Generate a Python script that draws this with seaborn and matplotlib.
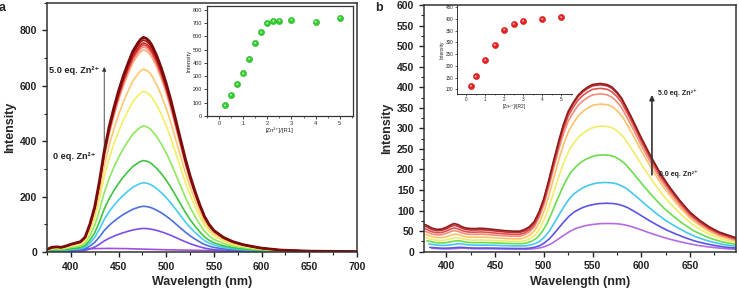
import numpy as np
import pandas as pd
import matplotlib
matplotlib.use("Agg")
import matplotlib.pyplot as plt
from matplotlib.ticker import MultipleLocator
import seaborn as sns

sns.set_style("ticks")
plt.rcParams['font.family'] = ['Liberation Sans', 'DejaVu Sans']

# ---------------- Panel a data ----------------
wl_a = [375, 380, 385, 390, 395, 400, 405, 410, 415, 420, 425, 430, 435, 440, 445,
        450, 455, 460, 465, 470, 473, 476, 479, 482, 485, 490, 495, 500, 505, 510,
        515, 520, 525, 530, 535, 540, 545, 550, 560, 570, 580, 590, 600, 620, 650, 700]
shape_a = [0.012, 0.022, 0.024, 0.022, 0.028, 0.036, 0.042, 0.048, 0.07, 0.13,
           0.21, 0.33, 0.47, 0.58, 0.67, 0.75, 0.82, 0.88, 0.935, 0.972, 0.99,
           1.0, 0.995, 0.983, 0.963, 0.915, 0.855, 0.785, 0.705, 0.615, 0.525,
           0.435, 0.355, 0.285, 0.222, 0.167, 0.128, 0.10, 0.068, 0.048, 0.035,
           0.026, 0.018, 0.009, 0.004, 0.002]
peaks_a = [85, 165, 250, 330, 455, 580, 660, 730, 740, 748, 755, 765, 775]
free_wl_a = [375, 380, 400, 420, 440, 460, 480, 500, 550, 600, 650, 700]
free_int_a = [4, 5, 8, 12, 13, 12, 10, 8, 5, 3, 2, 1]
colors_a = ['#a050e0', '#7b4fe6', '#4d6fdc', '#45cdf2', '#3fc43f', '#8ee860',
            '#f2f060', '#ffc870', '#ffae80', '#f7927e', '#e84a4a', '#d02828',
            '#a81818', '#7a0c0c']
ins_x_a = [0.25, 0.5, 0.75, 1, 1.25, 1.5, 1.75, 2, 2.25, 2.5, 3, 4, 5]
ins_y_a = [80, 160, 240, 320, 430, 550, 630, 700, 715, 718, 725, 710, 740]

# ---------------- Panel b data ----------------
wl_b = [377, 380, 385, 390, 395, 400, 405, 408, 412, 416, 420, 425, 430, 435, 440,
        450, 460, 470, 475, 480, 485, 490, 495, 500, 505, 510, 516, 520, 525, 530,
        535, 540, 545, 550, 558, 565, 570, 575, 580, 590, 600, 610, 620, 630, 640,
        650, 660, 670, 680, 697]
base_b = [1.05, 1.0, 0.9, 0.85, 0.86, 0.93, 1.03, 1.07, 1.03, 0.95, 0.9, 0.88,
          0.88, 0.89, 0.88, 0.84, 0.8, 0.78, 0.78, 0.78, 0.77, 0.76, 0.75, 0.74,
          0.73, 0.72, 0.70, 0.69, 0.68, 0.66, 0.65, 0.63, 0.62, 0.6, 0.58, 0.57,
          0.56, 0.55, 0.54, 0.52, 0.5, 0.48, 0.46, 0.44, 0.42, 0.4, 0.38, 0.36,
          0.34, 0.3]
band_b = [0, 0, 0, 0, 0, 0, 0, 0, 0, 0, 0, 0, 0, 0, 0, 0, 0, 0, 0, 0.01, 0.03,
          0.065, 0.13, 0.22, 0.34, 0.47, 0.62, 0.71, 0.8, 0.86, 0.91, 0.945, 0.97,
          0.99, 1.0, 0.995, 0.98, 0.95, 0.91, 0.79, 0.66, 0.54, 0.43, 0.34, 0.26,
          0.19, 0.14, 0.1, 0.07, 0.04]
baseline_b = [8, 10, 18, 25, 32, 40, 48, 54, 60, 64]
band_amp_b = [64, 112, 158, 221, 287, 336, 356, 366, 371, 372]
shift_b = [8, 6, 5, 3, 2, 1, 0, 0, 0, 0]
colors_b = ['#b36be0', '#5a55e6', '#45c8ef', '#6cdc4a', '#eeee66', '#ffc266',
            '#f08c78', '#e05050', '#c03030', '#8f1d1d']
ins_x_b = [0.25, 0.5, 1, 1.5, 2, 2.5, 3, 4, 5]
ins_y_b = [115, 155, 225, 290, 355, 380, 393, 400, 408]

W, H = 739, 292
fig = plt.figure(figsize=(W / 100, H / 100), dpi=100)

def axrect(l, t, r, b):
    return [l / W, 1 - b / H, (r - l) / W, (b - t) / H]

spine_c = '#333333'
tick_kw = dict(labelsize=7.5, width=1.0, length=3.5, direction='out', colors='#222222')

def style_main(ax):
    for s in ax.spines.values():
        s.set_visible(True)
        s.set_color(spine_c)
        s.set_linewidth(1.1)
    ax.tick_params(which='major', **tick_kw)
    ax.tick_params(which='minor', width=0.8, length=2, direction='out', colors='#222222')
    for lab in ax.get_xticklabels() + ax.get_yticklabels():
        lab.set_fontweight('bold')

# ---------- Panel a ----------
ax_a = fig.add_axes(axrect(47, 2.7, 357, 252))
sns.lineplot(x=free_wl_a, y=free_int_a, ax=ax_a, color=colors_a[0], lw=1.2)
for i, pk in enumerate(peaks_a):
    yv = np.array(shape_a) * pk
    lw = 2.0 if i == len(peaks_a) - 1 else 1.2
    sns.lineplot(x=wl_a, y=yv, ax=ax_a, color=colors_a[i + 1], lw=lw)
ax_a.set_xlim(375, 700)
ax_a.set_ylim(0, 900)
ax_a.xaxis.set_major_locator(MultipleLocator(50))
ax_a.xaxis.set_minor_locator(MultipleLocator(25))
ax_a.yaxis.set_major_locator(MultipleLocator(200))
ax_a.yaxis.set_minor_locator(MultipleLocator(100))
ax_a.set_xlabel('Wavelength (nm)', fontsize=9, fontweight='bold', labelpad=3)
ax_a.set_ylabel('Intensity', fontsize=9, fontweight='bold', labelpad=3)
style_main(ax_a)
ax_a.annotate('', xy=(435, 678), xytext=(435, 360),
              arrowprops=dict(arrowstyle='-|>', color='#333333', lw=0.6,
                              mutation_scale=6))
ax_a.text(377, 654, '5.0 eq. Zn²⁺', fontsize=6.6, fontweight='bold',
          va='center', ha='left', color='#222222')
ax_a.text(381, 343, '0 eq. Zn²⁺', fontsize=6.6, fontweight='bold',
          va='center', ha='left', color='#222222')

# inset a
ia = fig.add_axes(axrect(207, 5.7, 353, 116))
sns.scatterplot(x=ins_x_a, y=ins_y_a, ax=ia, color='#2fcf2f', s=20,
                edgecolor='#1a9a1a', linewidth=0.3, zorder=3)
sns.scatterplot(x=ins_x_a, y=ins_y_a, ax=ia, color='#b8ffb0', s=2,
                edgecolor='none', zorder=4)
ia.set_xlim(-0.5, 5.55)
ia.set_ylim(0, 830)
ia.xaxis.set_major_locator(MultipleLocator(1))
ia.xaxis.set_minor_locator(MultipleLocator(0.5))
ia.yaxis.set_major_locator(MultipleLocator(100))
for s in ia.spines.values():
    s.set_visible(True)
    s.set_color(spine_c)
    s.set_linewidth(0.9)
ia.tick_params(which='major', labelsize=4, width=0.6, length=2, pad=1.5)
ia.tick_params(which='minor', width=0.5, length=1.2)
ia.set_xlabel('[Zn²⁺]/[R1]', fontsize=4.2, labelpad=1)
ia.set_ylabel('Intensity', fontsize=4.2, labelpad=1)

# ---------- Panel b ----------
ax_b = fig.add_axes(axrect(424, 5, 735.7, 251.7))
for i in range(len(baseline_b)):
    yv = np.array(base_b) * baseline_b[i] + np.array(band_b) * band_amp_b[i]
    xv = np.array(wl_b) + shift_b[i]
    sns.lineplot(x=xv, y=yv, ax=ax_b, color=colors_b[i], lw=1.2)
ax_b.set_xlim(377, 697)
ax_b.set_ylim(0, 600)
ax_b.xaxis.set_major_locator(MultipleLocator(50))
ax_b.xaxis.set_minor_locator(MultipleLocator(25))
ax_b.yaxis.set_major_locator(MultipleLocator(50))
ax_b.yaxis.set_minor_locator(MultipleLocator(25))
ax_b.set_xlabel('Wavelength (nm)', fontsize=9, fontweight='bold', labelpad=3)
ax_b.set_ylabel('Intensity', fontsize=9, fontweight='bold', labelpad=3)
style_main(ax_b)
ax_b.annotate('', xy=(611, 388), xytext=(611, 180),
              arrowprops=dict(arrowstyle='-|>', color='#333333', lw=1.2,
                              mutation_scale=7))
ax_b.text(617, 386, '5.0 eq. Zn²⁺', fontsize=5, fontweight='bold',
          va='center', ha='left', color='#222222')
ax_b.text(618, 189, '0.0 eq. Zn²⁺', fontsize=5, fontweight='bold',
          va='center', ha='left', color='#222222')

# inset b
ib = fig.add_axes(axrect(456.7, 5, 571.7, 94))
sns.scatterplot(x=ins_x_b, y=ins_y_b, ax=ib, color='#e82020', s=20,
                edgecolor='#b01010', linewidth=0.3, zorder=3)
sns.scatterplot(x=ins_x_b, y=ins_y_b, ax=ib, color='#ffb0b0', s=2,
                edgecolor='none', zorder=4)
ib.set_xlim(-0.5, 5.55)
ib.set_ylim(80, 460)
ib.xaxis.set_major_locator(MultipleLocator(1))
ib.xaxis.set_minor_locator(MultipleLocator(0.5))
ib.yaxis.set_major_locator(MultipleLocator(50))
ib.spines['top'].set_visible(False)
ib.spines['right'].set_visible(False)
for s in ('left', 'bottom'):
    ib.spines[s].set_color(spine_c)
    ib.spines[s].set_linewidth(0.7)
ib.patch.set_alpha(0)
ib.tick_params(which='major', labelsize=3.3, width=0.5, length=1.5, pad=1)
ib.tick_params(which='minor', width=0.4, length=1)
ib.set_xlabel('[Zn²⁺]/[R2]', fontsize=3.5, labelpad=1)
ib.set_ylabel('Intensity', fontsize=3.5, labelpad=1)

fig.text(-0.002, 1 - 8 / H, 'a', fontsize=9, fontweight='bold', va='center', ha='left')
fig.text(375 / W, 1 - 8 / H, 'b', fontsize=9, fontweight='bold', va='center', ha='left')

fig.savefig('out.png', dpi=100)
